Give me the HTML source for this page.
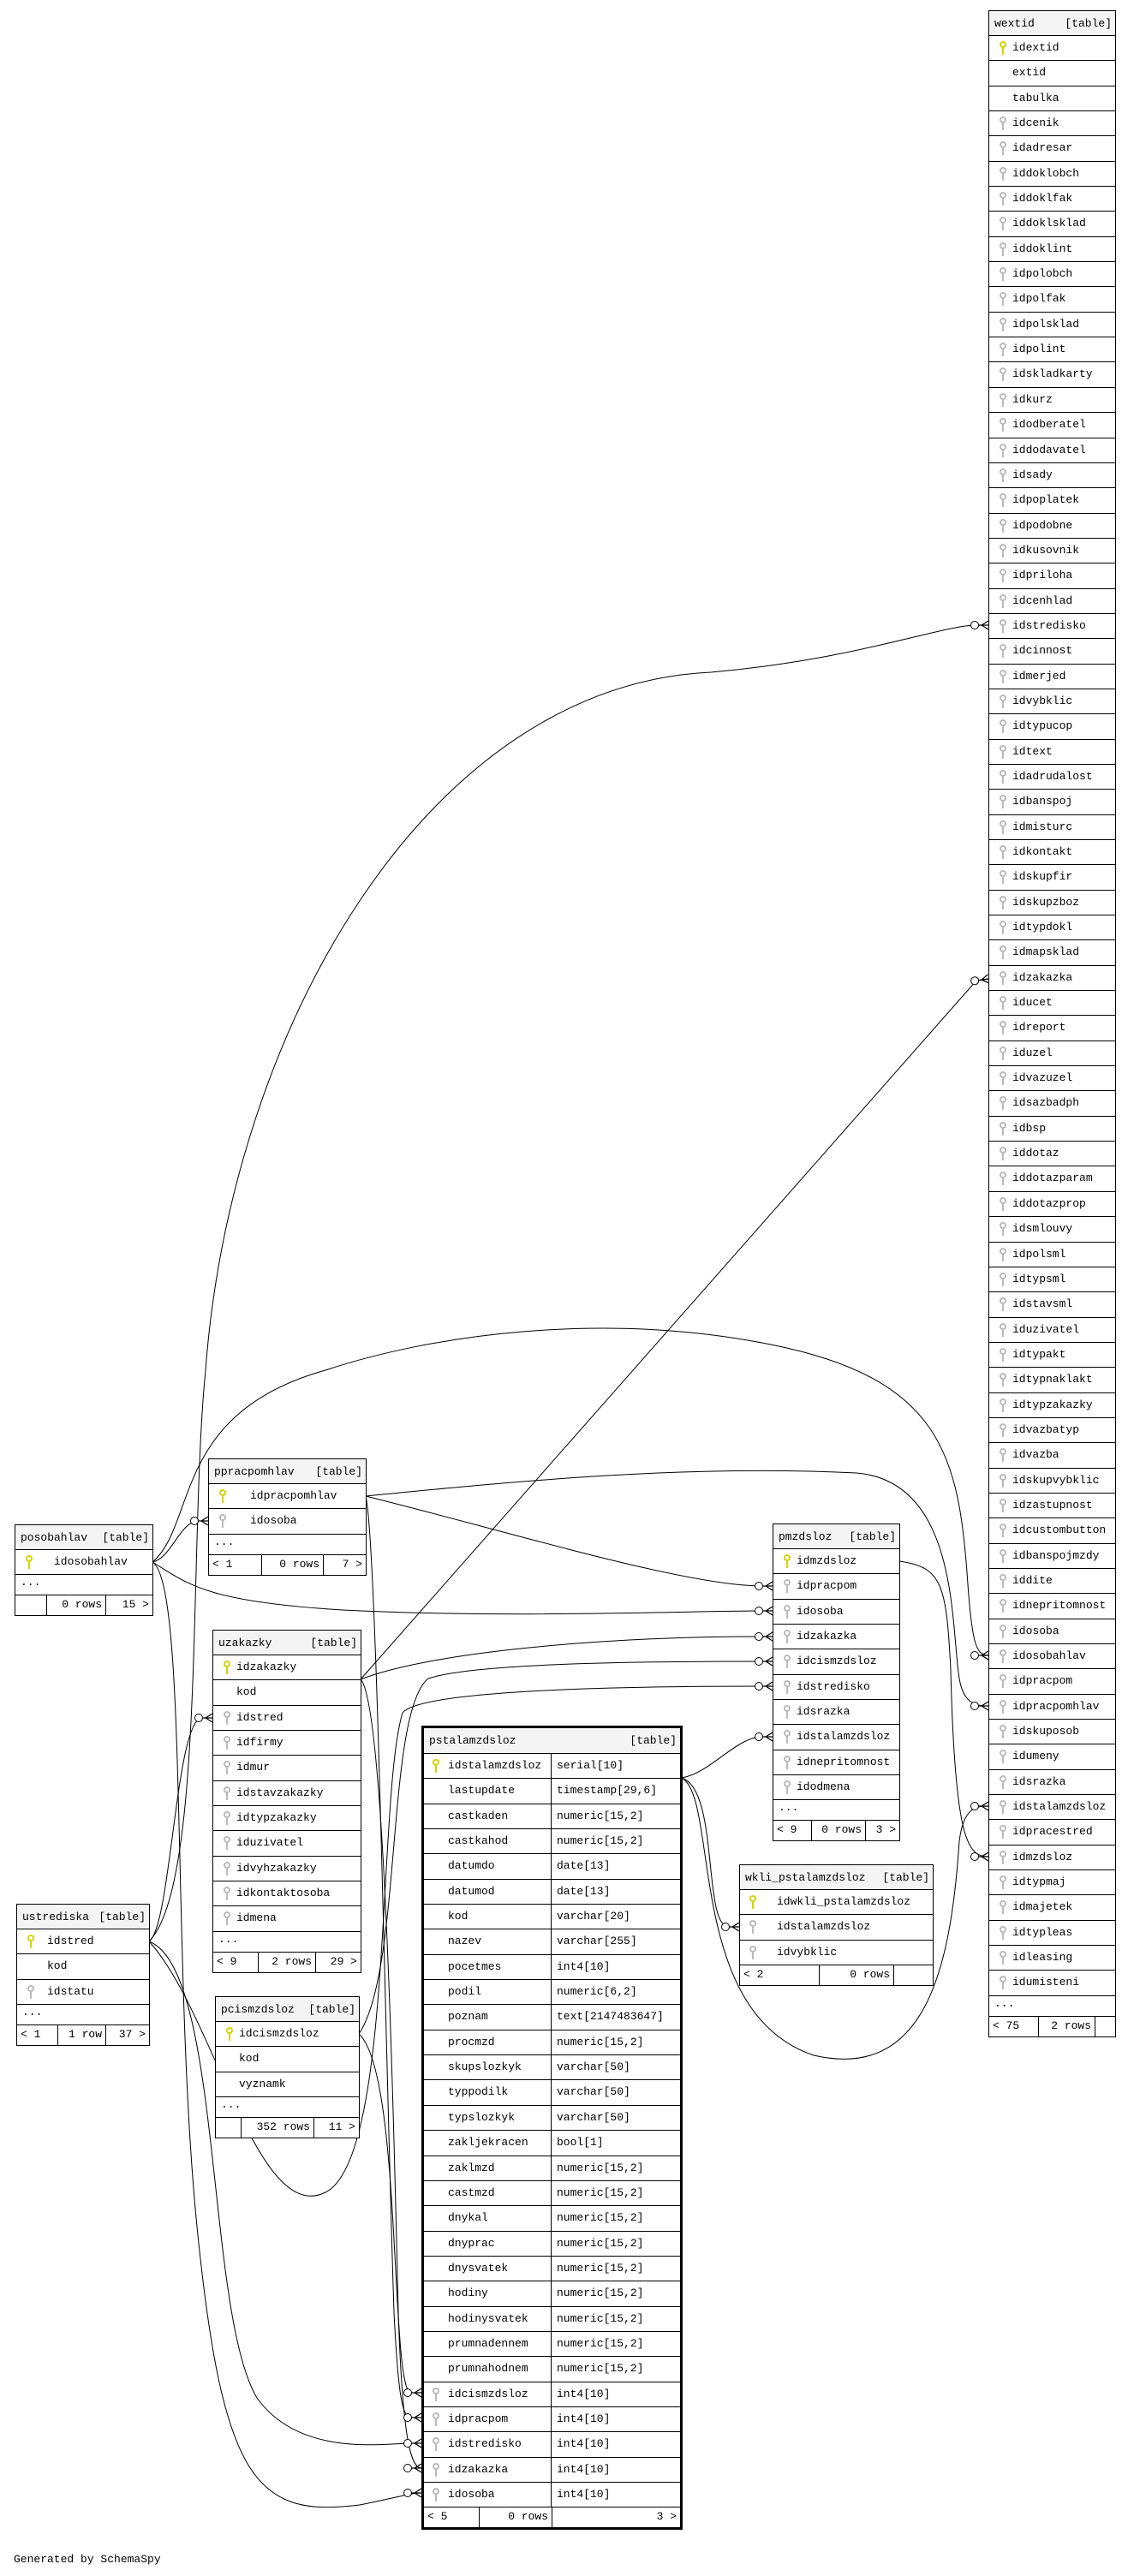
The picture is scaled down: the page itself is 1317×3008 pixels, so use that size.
<!DOCTYPE html>
<html><head><meta charset="utf-8"><style>
body{margin:0;width:1317px;height:3008px;background:#fff;position:relative;overflow:hidden;font-family:"Liberation Mono",monospace;font-size:13px;color:#000}
.t{position:absolute;border:1px solid #000;background:#fff;box-sizing:border-box}
.t.b{border:3px solid #000}
.h{height:28px;background:#f4f4f4;border-bottom:1px solid #000;display:flex;justify-content:space-between;align-items:center;padding:0 4px 0 6px;box-sizing:border-box;height:29px}
.r{height:29.35px;border-bottom:1px solid #000;box-sizing:border-box;position:relative;white-space:nowrap}
.r span.n{position:absolute;top:6px}
.r span.c2{position:absolute;top:6px;left:155px}
.r .v{position:absolute;left:148px;top:0;bottom:0;border-left:1px solid #000}
.e{height:24px;border-bottom:1px solid #000;box-sizing:border-box;padding:2px 6px;line-height:14px}
.f{height:23px;display:flex}
.f div{box-sizing:border-box;border-left:1px solid #000;padding:3px 4px;text-align:right;white-space:nowrap}
.f div:first-child{border-left:none;text-align:left}
.k{position:absolute;top:6px;width:4px;height:4px;border:2px solid #d4d400;border-radius:50%}
.k::after{content:"";position:absolute;left:1px;top:5px;width:2px;height:9px;background:#d4d400}
.k.g{border-color:#bbb}.k.g::after{background:#bbb}
</style></head><body>
<svg width="1317" height="3008" style="position:absolute;left:0;top:0" fill="none" stroke="#000" stroke-width="1">
<defs><marker id="m" markerUnits="userSpaceOnUse" markerWidth="30" markerHeight="16" refX="22" refY="8" orient="auto">
<circle cx="6" cy="8" r="4.5" fill="#fff" stroke="#000"/><path d="M11,8 L22,8 M14,8 L22,3 M14,8 L22,13" stroke="#000" stroke-width="1.3"/></marker></defs>
<g marker-end="url(#m)">
<path d="M174,2267 C240,2200 220,1800 240,1600 C270,1200 500,800 830,785 C1000,770 1100,730 1140,730 L1154,730"/>
<path d="M421,1961 L1140,1145 L1154,1143"/>
<path d="M178,1824 C230,1780 200,1650 380,1600 C500,1560 700,1530 900,1570 C1100,1610 1120,1700 1130,1850 C1135,1920 1140,1933 1154,1933"/>
<path d="M427,1747 C600,1730 800,1710 1000,1720 C1120,1730 1110,1900 1120,1960 C1125,1990 1140,1992 1154,1992"/>
<path d="M427,1747 C600,1790 800,1852 890,1852 L902,1852"/>
<path d="M178,1824 C200,1820 210,1776 232,1776 L243,1776"/>
<path d="M178,1824 C220,1850 240,1870 400,1880 C600,1890 800,1881 890,1881 L902,1881"/>
<path d="M178,1824 C220,1850 200,2300 230,2600 C260,2900 300,2940 420,2925 C470,2915 480,2911 492,2911"/>
<path d="M421,1961 C500,1930 700,1911 890,1911 L902,1911"/>
<path d="M421,1961 C450,1990 460,2500 465,2700 C470,2850 480,2882 492,2882"/>
<path d="M174,2267 C200,2250 205,2006 236,2006 L248,2006"/>
<path d="M174,2267 C250,2350 300,2600 380,2560 C460,2520 440,2100 470,2000 C490,1975 700,1969 890,1969 L902,1969"/>
<path d="M174,2267 C260,2300 240,2700 300,2800 C350,2870 450,2853 480,2853 L492,2853"/>
<path d="M419,2375 C470,2300 450,2000 500,1960 C560,1940 800,1940 890,1940 L902,1940"/>
<path d="M419,2375 C470,2420 455,2794 480,2794 L492,2794"/>
<path d="M427,1747 C440,1800 450,2400 460,2700 C465,2800 470,2823 480,2823 L492,2823"/>
<path d="M796,2076 C830,2070 860,2028 890,2028 L902,2028"/>
<path d="M796,2076 C840,2090 820,2250 851,2250 L863,2250"/>
<path d="M796,2076 C840,2100 800,2350 950,2400 C1080,2430 1110,2300 1120,2150 C1125,2110 1140,2109 1154,2109"/>
<path d="M1050,1823 C1100,1830 1105,1850 1110,1950 C1115,2150 1130,2168 1154,2168"/>
</g></svg>

<!-- wextid -->
<div class="t" style="left:1154px;top:12px;width:149px">
<div class="h"><span>wextid</span><span>[table]</span></div>
<div class="r"><i class="k" style="left:12px"></i><span class="n" style="left:27px">idextid</span></div>
<div class="r"><span class="n" style="left:27px">extid</span></div>
<div class="r"><span class="n" style="left:27px">tabulka</span></div>
<div class="r"><i class="k g" style="left:12px"></i><span class="n" style="left:27px">idcenik</span></div>
<div class="r"><i class="k g" style="left:12px"></i><span class="n" style="left:27px">idadresar</span></div>
<div class="r"><i class="k g" style="left:12px"></i><span class="n" style="left:27px">iddoklobch</span></div>
<div class="r"><i class="k g" style="left:12px"></i><span class="n" style="left:27px">iddoklfak</span></div>
<div class="r"><i class="k g" style="left:12px"></i><span class="n" style="left:27px">iddoklsklad</span></div>
<div class="r"><i class="k g" style="left:12px"></i><span class="n" style="left:27px">iddoklint</span></div>
<div class="r"><i class="k g" style="left:12px"></i><span class="n" style="left:27px">idpolobch</span></div>
<div class="r"><i class="k g" style="left:12px"></i><span class="n" style="left:27px">idpolfak</span></div>
<div class="r"><i class="k g" style="left:12px"></i><span class="n" style="left:27px">idpolsklad</span></div>
<div class="r"><i class="k g" style="left:12px"></i><span class="n" style="left:27px">idpolint</span></div>
<div class="r"><i class="k g" style="left:12px"></i><span class="n" style="left:27px">idskladkarty</span></div>
<div class="r"><i class="k g" style="left:12px"></i><span class="n" style="left:27px">idkurz</span></div>
<div class="r"><i class="k g" style="left:12px"></i><span class="n" style="left:27px">idodberatel</span></div>
<div class="r"><i class="k g" style="left:12px"></i><span class="n" style="left:27px">iddodavatel</span></div>
<div class="r"><i class="k g" style="left:12px"></i><span class="n" style="left:27px">idsady</span></div>
<div class="r"><i class="k g" style="left:12px"></i><span class="n" style="left:27px">idpoplatek</span></div>
<div class="r"><i class="k g" style="left:12px"></i><span class="n" style="left:27px">idpodobne</span></div>
<div class="r"><i class="k g" style="left:12px"></i><span class="n" style="left:27px">idkusovnik</span></div>
<div class="r"><i class="k g" style="left:12px"></i><span class="n" style="left:27px">idpriloha</span></div>
<div class="r"><i class="k g" style="left:12px"></i><span class="n" style="left:27px">idcenhlad</span></div>
<div class="r"><i class="k g" style="left:12px"></i><span class="n" style="left:27px">idstredisko</span></div>
<div class="r"><i class="k g" style="left:12px"></i><span class="n" style="left:27px">idcinnost</span></div>
<div class="r"><i class="k g" style="left:12px"></i><span class="n" style="left:27px">idmerjed</span></div>
<div class="r"><i class="k g" style="left:12px"></i><span class="n" style="left:27px">idvybklic</span></div>
<div class="r"><i class="k g" style="left:12px"></i><span class="n" style="left:27px">idtypucop</span></div>
<div class="r"><i class="k g" style="left:12px"></i><span class="n" style="left:27px">idtext</span></div>
<div class="r"><i class="k g" style="left:12px"></i><span class="n" style="left:27px">idadrudalost</span></div>
<div class="r"><i class="k g" style="left:12px"></i><span class="n" style="left:27px">idbanspoj</span></div>
<div class="r"><i class="k g" style="left:12px"></i><span class="n" style="left:27px">idmisturc</span></div>
<div class="r"><i class="k g" style="left:12px"></i><span class="n" style="left:27px">idkontakt</span></div>
<div class="r"><i class="k g" style="left:12px"></i><span class="n" style="left:27px">idskupfir</span></div>
<div class="r"><i class="k g" style="left:12px"></i><span class="n" style="left:27px">idskupzboz</span></div>
<div class="r"><i class="k g" style="left:12px"></i><span class="n" style="left:27px">idtypdokl</span></div>
<div class="r"><i class="k g" style="left:12px"></i><span class="n" style="left:27px">idmapsklad</span></div>
<div class="r"><i class="k g" style="left:12px"></i><span class="n" style="left:27px">idzakazka</span></div>
<div class="r"><i class="k g" style="left:12px"></i><span class="n" style="left:27px">iducet</span></div>
<div class="r"><i class="k g" style="left:12px"></i><span class="n" style="left:27px">idreport</span></div>
<div class="r"><i class="k g" style="left:12px"></i><span class="n" style="left:27px">iduzel</span></div>
<div class="r"><i class="k g" style="left:12px"></i><span class="n" style="left:27px">idvazuzel</span></div>
<div class="r"><i class="k g" style="left:12px"></i><span class="n" style="left:27px">idsazbadph</span></div>
<div class="r"><i class="k g" style="left:12px"></i><span class="n" style="left:27px">idbsp</span></div>
<div class="r"><i class="k g" style="left:12px"></i><span class="n" style="left:27px">iddotaz</span></div>
<div class="r"><i class="k g" style="left:12px"></i><span class="n" style="left:27px">iddotazparam</span></div>
<div class="r"><i class="k g" style="left:12px"></i><span class="n" style="left:27px">iddotazprop</span></div>
<div class="r"><i class="k g" style="left:12px"></i><span class="n" style="left:27px">idsmlouvy</span></div>
<div class="r"><i class="k g" style="left:12px"></i><span class="n" style="left:27px">idpolsml</span></div>
<div class="r"><i class="k g" style="left:12px"></i><span class="n" style="left:27px">idtypsml</span></div>
<div class="r"><i class="k g" style="left:12px"></i><span class="n" style="left:27px">idstavsml</span></div>
<div class="r"><i class="k g" style="left:12px"></i><span class="n" style="left:27px">iduzivatel</span></div>
<div class="r"><i class="k g" style="left:12px"></i><span class="n" style="left:27px">idtypakt</span></div>
<div class="r"><i class="k g" style="left:12px"></i><span class="n" style="left:27px">idtypnaklakt</span></div>
<div class="r"><i class="k g" style="left:12px"></i><span class="n" style="left:27px">idtypzakazky</span></div>
<div class="r"><i class="k g" style="left:12px"></i><span class="n" style="left:27px">idvazbatyp</span></div>
<div class="r"><i class="k g" style="left:12px"></i><span class="n" style="left:27px">idvazba</span></div>
<div class="r"><i class="k g" style="left:12px"></i><span class="n" style="left:27px">idskupvybklic</span></div>
<div class="r"><i class="k g" style="left:12px"></i><span class="n" style="left:27px">idzastupnost</span></div>
<div class="r"><i class="k g" style="left:12px"></i><span class="n" style="left:27px">idcustombutton</span></div>
<div class="r"><i class="k g" style="left:12px"></i><span class="n" style="left:27px">idbanspojmzdy</span></div>
<div class="r"><i class="k g" style="left:12px"></i><span class="n" style="left:27px">iddite</span></div>
<div class="r"><i class="k g" style="left:12px"></i><span class="n" style="left:27px">idnepritomnost</span></div>
<div class="r"><i class="k g" style="left:12px"></i><span class="n" style="left:27px">idosoba</span></div>
<div class="r"><i class="k g" style="left:12px"></i><span class="n" style="left:27px">idosobahlav</span></div>
<div class="r"><i class="k g" style="left:12px"></i><span class="n" style="left:27px">idpracpom</span></div>
<div class="r"><i class="k g" style="left:12px"></i><span class="n" style="left:27px">idpracpomhlav</span></div>
<div class="r"><i class="k g" style="left:12px"></i><span class="n" style="left:27px">idskuposob</span></div>
<div class="r"><i class="k g" style="left:12px"></i><span class="n" style="left:27px">idumeny</span></div>
<div class="r"><i class="k g" style="left:12px"></i><span class="n" style="left:27px">idsrazka</span></div>
<div class="r"><i class="k g" style="left:12px"></i><span class="n" style="left:27px">idstalamzdsloz</span></div>
<div class="r"><i class="k g" style="left:12px"></i><span class="n" style="left:27px">idpracestred</span></div>
<div class="r"><i class="k g" style="left:12px"></i><span class="n" style="left:27px">idmzdsloz</span></div>
<div class="r"><i class="k g" style="left:12px"></i><span class="n" style="left:27px">idtypmaj</span></div>
<div class="r"><i class="k g" style="left:12px"></i><span class="n" style="left:27px">idmajetek</span></div>
<div class="r"><i class="k g" style="left:12px"></i><span class="n" style="left:27px">idtypleas</span></div>
<div class="r"><i class="k g" style="left:12px"></i><span class="n" style="left:27px">idleasing</span></div>
<div class="r"><i class="k g" style="left:12px"></i><span class="n" style="left:27px">idumisteni</span></div>
<div class="e">...</div>
<div class="f"><div style="width:57px">&lt; 75</div><div style="width:66px">2 rows</div><div style="width:24px"></div></div>
</div>

<!-- posobahlav -->
<div class="t" style="left:17px;top:1780px;width:162px">
<div class="h"><span>posobahlav</span><span>[table]</span></div>
<div class="r"><i class="k" style="left:12px"></i><span class="n" style="left:45px">idosobahlav</span></div>
<div class="e">...</div>
<div class="f"><div style="width:36px"></div><div style="width:69px">0 rows</div><div style="width:55px">15 &gt;</div></div>
</div>

<!-- ppracpomhlav -->
<div class="t" style="left:243px;top:1703px;width:185px">
<div class="h"><span>ppracpomhlav</span><span>[table]</span></div>
<div class="r"><i class="k" style="left:12px"></i><span class="n" style="left:48px">idpracpomhlav</span></div>
<div class="r"><i class="k g" style="left:12px"></i><span class="n" style="left:48px">idosoba</span></div>
<div class="e">...</div>
<div class="f"><div style="width:61px">&lt; 1</div><div style="width:72px">0 rows</div><div style="width:50px">7 &gt;</div></div>
</div>

<!-- uzakazky -->
<div class="t" style="left:248px;top:1903px;width:174px">
<div class="h"><span>uzakazky</span><span>[table]</span></div>
<div class="r"><i class="k" style="left:12px"></i><span class="n" style="left:27px">idzakazky</span></div>
<div class="r"><span class="n" style="left:27px">kod</span></div>
<div class="r"><i class="k g" style="left:12px"></i><span class="n" style="left:27px">idstred</span></div>
<div class="r"><i class="k g" style="left:12px"></i><span class="n" style="left:27px">idfirmy</span></div>
<div class="r"><i class="k g" style="left:12px"></i><span class="n" style="left:27px">idmur</span></div>
<div class="r"><i class="k g" style="left:12px"></i><span class="n" style="left:27px">idstavzakazky</span></div>
<div class="r"><i class="k g" style="left:12px"></i><span class="n" style="left:27px">idtypzakazky</span></div>
<div class="r"><i class="k g" style="left:12px"></i><span class="n" style="left:27px">iduzivatel</span></div>
<div class="r"><i class="k g" style="left:12px"></i><span class="n" style="left:27px">idvyhzakazky</span></div>
<div class="r"><i class="k g" style="left:12px"></i><span class="n" style="left:27px">idkontaktosoba</span></div>
<div class="r"><i class="k g" style="left:12px"></i><span class="n" style="left:27px">idmena</span></div>
<div class="e">...</div>
<div class="f"><div style="width:52px">&lt; 9</div><div style="width:67px">2 rows</div><div style="width:53px">29 &gt;</div></div>
</div>

<!-- ustrediska -->
<div class="t" style="left:19px;top:2223px;width:156px">
<div class="h"><span>ustrediska</span><span>[table]</span></div>
<div class="r"><i class="k" style="left:12px"></i><span class="n" style="left:35px">idstred</span></div>
<div class="r"><span class="n" style="left:35px">kod</span></div>
<div class="r"><i class="k g" style="left:12px"></i><span class="n" style="left:35px">idstatu</span></div>
<div class="e">...</div>
<div class="f"><div style="width:47px">&lt; 1</div><div style="width:56px">1 row</div><div style="width:51px">37 &gt;</div></div>
</div>

<!-- pcismzdsloz -->
<div class="t" style="left:251px;top:2331px;width:169px">
<div class="h"><span>pcismzdsloz</span><span>[table]</span></div>
<div class="r"><i class="k" style="left:12px"></i><span class="n" style="left:27px">idcismzdsloz</span></div>
<div class="r"><span class="n" style="left:27px">kod</span></div>
<div class="r"><span class="n" style="left:27px">vyznamk</span></div>
<div class="e">...</div>
<div class="f"><div style="width:29px"></div><div style="width:85px">352 rows</div><div style="width:53px">11 &gt;</div></div>
</div>

<!-- pmzdsloz -->
<div class="t" style="left:902px;top:1779px;width:149px">
<div class="h"><span>pmzdsloz</span><span>[table]</span></div>
<div class="r"><i class="k" style="left:12px"></i><span class="n" style="left:27px">idmzdsloz</span></div>
<div class="r"><i class="k g" style="left:12px"></i><span class="n" style="left:27px">idpracpom</span></div>
<div class="r"><i class="k g" style="left:12px"></i><span class="n" style="left:27px">idosoba</span></div>
<div class="r"><i class="k g" style="left:12px"></i><span class="n" style="left:27px">idzakazka</span></div>
<div class="r"><i class="k g" style="left:12px"></i><span class="n" style="left:27px">idcismzdsloz</span></div>
<div class="r"><i class="k g" style="left:12px"></i><span class="n" style="left:27px">idstredisko</span></div>
<div class="r"><i class="k g" style="left:12px"></i><span class="n" style="left:27px">idsrazka</span></div>
<div class="r"><i class="k g" style="left:12px"></i><span class="n" style="left:27px">idstalamzdsloz</span></div>
<div class="r"><i class="k g" style="left:12px"></i><span class="n" style="left:27px">idnepritomnost</span></div>
<div class="r"><i class="k g" style="left:12px"></i><span class="n" style="left:27px">idodmena</span></div>
<div class="e">...</div>
<div class="f"><div style="width:44px">&lt; 9</div><div style="width:63px">0 rows</div><div style="width:40px">3 &gt;</div></div>
</div>

<!-- wkli -->
<div class="t" style="left:863px;top:2177px;width:227px">
<div class="h"><span>wkli_pstalamzdsloz</span><span>[table]</span></div>
<div class="r"><i class="k" style="left:11px"></i><span class="n" style="left:43px">idwkli_pstalamzdsloz</span></div>
<div class="r"><i class="k g" style="left:11px"></i><span class="n" style="left:43px">idstalamzdsloz</span></div>
<div class="r"><i class="k g" style="left:11px"></i><span class="n" style="left:43px">idvybklic</span></div>
<div class="f"><div style="width:92px">&lt; 2</div><div style="width:87px">0 rows</div><div style="width:46px"></div></div>
</div>

<!-- pstalamzdsloz -->
<div class="t b" style="left:492px;top:2015px;width:305px">
<div class="h" style="height:30px"><span>pstalamzdsloz</span><span>[table]</span></div>
<div class="r"><i class="k" style="left:10px"></i><span class="n" style="left:28px">idstalamzdsloz</span><i class="v"></i><span class="c2">serial[10]</span></div>
<div class="r"><span class="n" style="left:28px">lastupdate</span><i class="v"></i><span class="c2">timestamp[29,6]</span></div>
<div class="r"><span class="n" style="left:28px">castkaden</span><i class="v"></i><span class="c2">numeric[15,2]</span></div>
<div class="r"><span class="n" style="left:28px">castkahod</span><i class="v"></i><span class="c2">numeric[15,2]</span></div>
<div class="r"><span class="n" style="left:28px">datumdo</span><i class="v"></i><span class="c2">date[13]</span></div>
<div class="r"><span class="n" style="left:28px">datumod</span><i class="v"></i><span class="c2">date[13]</span></div>
<div class="r"><span class="n" style="left:28px">kod</span><i class="v"></i><span class="c2">varchar[20]</span></div>
<div class="r"><span class="n" style="left:28px">nazev</span><i class="v"></i><span class="c2">varchar[255]</span></div>
<div class="r"><span class="n" style="left:28px">pocetmes</span><i class="v"></i><span class="c2">int4[10]</span></div>
<div class="r"><span class="n" style="left:28px">podil</span><i class="v"></i><span class="c2">numeric[6,2]</span></div>
<div class="r"><span class="n" style="left:28px">poznam</span><i class="v"></i><span class="c2">text[2147483647]</span></div>
<div class="r"><span class="n" style="left:28px">procmzd</span><i class="v"></i><span class="c2">numeric[15,2]</span></div>
<div class="r"><span class="n" style="left:28px">skupslozkyk</span><i class="v"></i><span class="c2">varchar[50]</span></div>
<div class="r"><span class="n" style="left:28px">typpodilk</span><i class="v"></i><span class="c2">varchar[50]</span></div>
<div class="r"><span class="n" style="left:28px">typslozkyk</span><i class="v"></i><span class="c2">varchar[50]</span></div>
<div class="r"><span class="n" style="left:28px">zakljekracen</span><i class="v"></i><span class="c2">bool[1]</span></div>
<div class="r"><span class="n" style="left:28px">zaklmzd</span><i class="v"></i><span class="c2">numeric[15,2]</span></div>
<div class="r"><span class="n" style="left:28px">castmzd</span><i class="v"></i><span class="c2">numeric[15,2]</span></div>
<div class="r"><span class="n" style="left:28px">dnykal</span><i class="v"></i><span class="c2">numeric[15,2]</span></div>
<div class="r"><span class="n" style="left:28px">dnyprac</span><i class="v"></i><span class="c2">numeric[15,2]</span></div>
<div class="r"><span class="n" style="left:28px">dnysvatek</span><i class="v"></i><span class="c2">numeric[15,2]</span></div>
<div class="r"><span class="n" style="left:28px">hodiny</span><i class="v"></i><span class="c2">numeric[15,2]</span></div>
<div class="r"><span class="n" style="left:28px">hodinysvatek</span><i class="v"></i><span class="c2">numeric[15,2]</span></div>
<div class="r"><span class="n" style="left:28px">prumnadennem</span><i class="v"></i><span class="c2">numeric[15,2]</span></div>
<div class="r"><span class="n" style="left:28px">prumnahodnem</span><i class="v"></i><span class="c2">numeric[15,2]</span></div>
<div class="r"><i class="k g" style="left:10px"></i><span class="n" style="left:28px">idcismzdsloz</span><i class="v"></i><span class="c2">int4[10]</span></div>
<div class="r"><i class="k g" style="left:10px"></i><span class="n" style="left:28px">idpracpom</span><i class="v"></i><span class="c2">int4[10]</span></div>
<div class="r"><i class="k g" style="left:10px"></i><span class="n" style="left:28px">idstredisko</span><i class="v"></i><span class="c2">int4[10]</span></div>
<div class="r"><i class="k g" style="left:10px"></i><span class="n" style="left:28px">idzakazka</span><i class="v"></i><span class="c2">int4[10]</span></div>
<div class="r"><i class="k g" style="left:10px"></i><span class="n" style="left:28px">idosoba</span><i class="v"></i><span class="c2">int4[10]</span></div>
<div class="f"><div style="width:64px">&lt; 5</div><div style="width:85px">0 rows</div><div style="width:150px">3 &gt;</div></div>
</div>

<div style="position:absolute;left:16px;top:2981px;font-size:13px">Generated by SchemaSpy</div>
</body></html>
